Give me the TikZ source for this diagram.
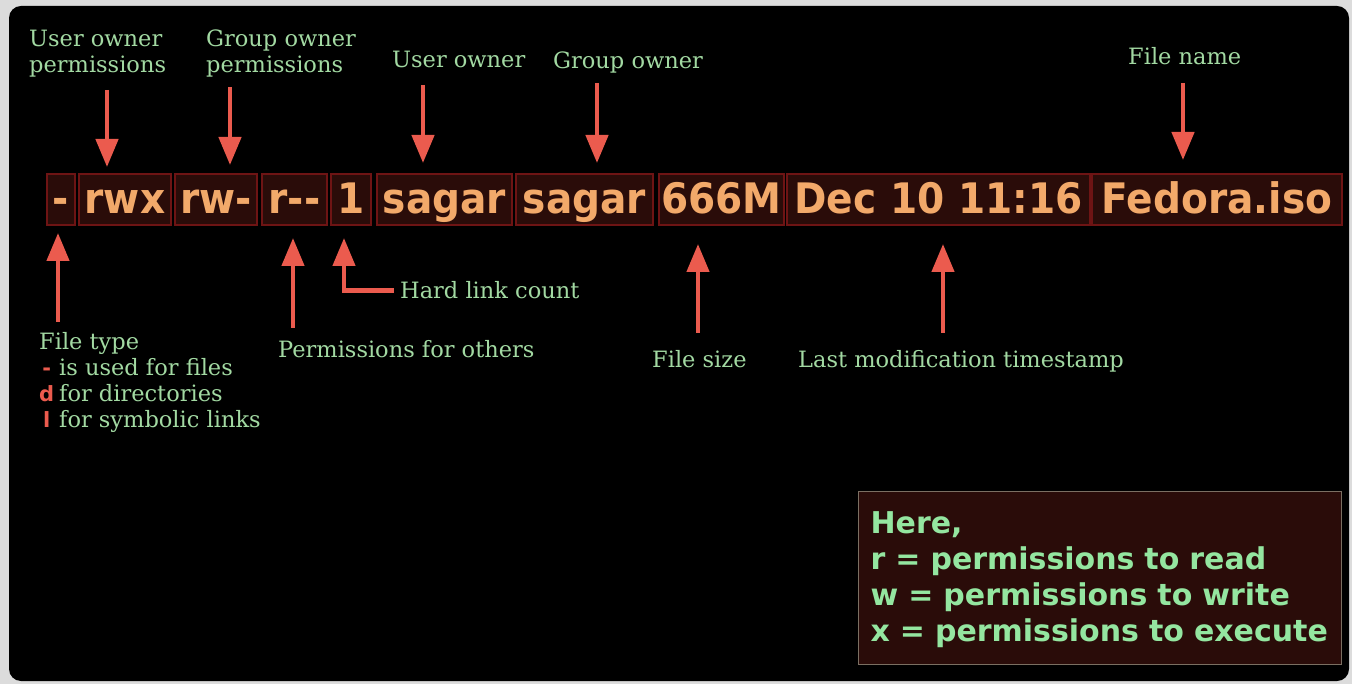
\documentclass[tikz,border=0pt]{standalone}
\usepackage{fontspec}
\setmainfont{DejaVu Serif}
\newfontfamily\rowfont[FakeStretch=0.93]{DejaVu Sans}
\newfontfamily\keyfont{DejaVu Sans}
\usetikzlibrary{positioning, arrows.meta}
\definecolor{pagegray}{HTML}{DCDCDC}
\definecolor{boxfill}{HTML}{2A0C09}
\definecolor{boxline}{HTML}{6E1414}
\definecolor{fieldtext}{HTML}{F2A96A}
\definecolor{labelgreen}{HTML}{A2D9A2}
\definecolor{keygreen}{HTML}{94E6A0}
\definecolor{keyline}{HTML}{7B6F62}
\definecolor{arrowred}{HTML}{EB5B4E}
\newcommand{\typemark}[1]{\makebox[15pt][c]{\textcolor{arrowred}{\keyfont\bfseries\fontsize{21}{26}\selectfont #1}}\hspace{5pt}}
\tikzset{
    node distance=4pt, % gap between two fields of the listing
    field/.style={ % one column of the ls -l line
        draw=boxline,
        fill=boxfill,
        line width=1.2pt,
        minimum height=51pt,
        inner sep=0pt, outer sep=0pt,
        text height=30pt, text depth=2pt,
        text=fieldtext,
        font=\rowfont\bfseries\fontsize{42}{42}\selectfont
    },
    caption/.style={ % green explanation texts, placed at the baseline of the last line
        text=labelgreen,
        inner sep=0pt,
        anchor=base west,
        align=left,
        font=\fontsize{22.5}{26}\selectfont
    },
    pointer/.style={ % red arrows
        draw=arrowred,
        line width=4.5pt,
        -{Triangle[width=22pt,length=28pt]}
    },
    keybox/.style={
        draw=keyline,
        fill=boxfill,
        line width=1.2pt,
        text=keygreen,
        inner xsep=12pt, inner ysep=0pt,
        minimum height=173pt,
        text width=459pt,
        align=left,
        font=\keyfont\bfseries\fontsize{30}{36}\selectfont
    }
}
\begin{document}
\begin{tikzpicture}[x=1pt,y=-1pt]
    \useasboundingbox (0,0) rectangle (1352,684);
    % terminal window
    \fill[pagegray] (0,0) rectangle (1352,684);
    \fill[black, rounded corners=12pt] (9,6) rectangle (1349,681);

    % the listing
    \node[field, minimum width=28pt]                      (ftype) at (61,199.5) {-};
    \node[field, minimum width=92pt, right=4pt of ftype]  (uperm) {rwx};
    \node[field, minimum width=82pt, right=4pt of uperm]  (gperm) {rw-};
    \node[field, minimum width=65pt, right=5pt of gperm]  (operm) {r-{}-};
    \node[field, minimum width=40pt, right=4pt of operm]  (links) {1};
    \node[field, minimum width=135pt, right=6pt of links] (uown)  {sagar};
    \node[field, minimum width=137pt, right=4pt of uown]  (gown)  {sagar};
    \node[field, minimum width=125pt, right=6pt of gown]  (fsize) {666M};
    \node[field, minimum width=303pt, right=3pt of fsize] (mtime) {Dec 10 11:16};
    \node[field, minimum width=250pt, right=2pt of mtime] (fname) {Fedora.iso};

    % captions above
    \node[caption] (uperm-lbl) at (29,73)   {User owner\\permissions};
    \node[caption] (gperm-lbl) at (206,73)  {Group owner\\permissions};
    \node[caption] (uown-lbl)  at (392,68)  {User owner};
    \node[caption] (gown-lbl)  at (553,69)  {Group owner};
    \node[caption] (fname-lbl) at (1128,65) {File name};
    % captions below
    \node[caption] (ftype-lbl) at (39,428)  {File type\\
        \typemark{-}is used for files\\
        \typemark{d}for directories\\
        \typemark{l}for symbolic links};
    \node[caption] (hlink-lbl) at (400,299) {Hard link count};
    \node[caption] (operm-lbl) at (278,358) {Permissions for others};
    \node[caption] (fsize-lbl) at (652,368) {File size};
    \node[caption] (mtime-lbl) at (798,368) {Last modification timestamp};

    % arrow tails
    \coordinate (uperm-top) at (107,90);
    \coordinate (gperm-top) at (230,87);
    \coordinate (uown-top)  at (423,85);
    \coordinate (gown-top)  at (597,83);
    \coordinate (fname-top) at (1183,83);
    \coordinate (ftype-bot) at (58,322);
    \coordinate (operm-bot) at (293,328);
    \coordinate (fsize-bot) at (698,333);
    \coordinate (mtime-bot) at (943,333);

    % arrows down
    \draw[pointer, shorten >=7pt]  (uperm-top) -- (uperm-top |- uperm.north);
    \draw[pointer, shorten >=9pt]  (gperm-top) -- (gperm-top |- gperm.north);
    \draw[pointer, shorten >=11pt] (uown-top)  -- (uown-top |- uown.north);
    \draw[pointer, shorten >=11pt] (gown-top)  -- (gown-top |- gown.north);
    \draw[pointer, shorten >=14pt] (fname-top) -- (fname-top |- fname.north);
    % arrows up
    \draw[pointer, shorten >=8pt]  (ftype-bot) -- (ftype-bot |- ftype.south);
    \draw[pointer, shorten >=13pt] (operm-bot) -- (operm-bot |- operm.south);
    \draw[pointer, shorten >=19pt] (fsize-bot) -- (fsize-bot |- fsize.south);
    \draw[pointer, shorten >=19pt] (mtime-bot) -- (mtime-bot |- mtime.south);
    \draw[pointer, shorten <=6pt, shorten >=13pt]
        (hlink-lbl.west) -| ([xshift=-7pt]links.south);

    % legend
    \node[keybox, anchor=north west] (legend) at (858,491)
        {\rule{0pt}{26pt}Here,\\r = permissions to read\\w = permissions to write\\x = permissions to execute};
\end{tikzpicture}
\end{document}
